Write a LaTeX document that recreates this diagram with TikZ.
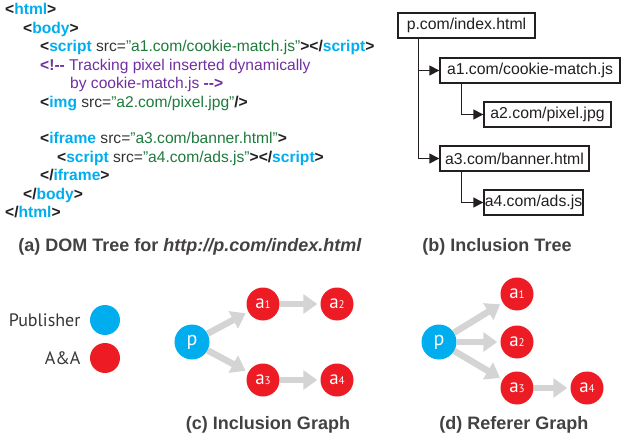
\documentclass[tikz,border=0pt]{standalone}
\usepackage{fontspec}
\setmainfont{Liberation Sans}
\newfontfamily\humfont{PT Sans}
\usetikzlibrary{arrows.meta}

\definecolor{tagcyan}{HTML}{00AEEF}
\definecolor{valgreen}{HTML}{1E7A3C}
\definecolor{cmtpurple}{HTML}{7030A0}
\definecolor{inkblack}{HTML}{231F20}
\definecolor{attrgray}{HTML}{333333}
\definecolor{aared}{HTML}{ED1C24}
\definecolor{edgegray}{HTML}{D4D4D4}

% pieces of the HTML listing
\newcommand{\tg}[1]{\textbf{\textcolor{tagcyan}{#1}}}
\newcommand{\bk}[1]{\textbf{\textcolor{inkblack}{#1}}}
\newcommand{\at}[1]{\textcolor{attrgray}{#1}}
\newcommand{\vl}[1]{\textcolor{valgreen}{#1}}
\newcommand{\cm}[1]{\textcolor{cmtpurple}{#1}}
\newcommand{\cmb}[1]{\textbf{\textcolor{cmtpurple}{#1}}}
\newcommand{\sub}[1]{{\fontsize{11}{11}\selectfont\raisebox{-0.3pt}{#1}}}

\tikzset{
  codeline/.style={anchor=base west, inner sep=0pt, font=\fontsize{15.6}{17}\selectfont},
  urlbox/.style={draw=inkblack, line width=1.4pt, minimum height=25pt, inner sep=0pt,
                 font=\fontsize{15.8}{18}\selectfont, text=inkblack},
  treelink/.style={draw=inkblack, line width=1.4pt, -{Triangle[length=10pt,width=10pt]}},
  caption/.style={font=\bfseries\fontsize{18}{21}\selectfont, text=inkblack!85},
  pubnode/.style={circle, fill=tagcyan, minimum size=35pt, inner sep=0pt,
                  text=white, font=\humfont\fontsize{20}{20}\selectfont},
  aanode/.style={circle, fill=aared, minimum size=33pt, inner sep=0pt,
                 text=white, font=\humfont\fontsize{19}{19}\selectfont},
  legendtext/.style={font=\humfont\fontsize{18}{20}\selectfont, text=inkblack!90},
  flow/.style={draw=edgegray, line width=6.5pt, shorten >=3pt,
               -{Triangle[length=14pt,width=19pt]}}
}

\begin{document}
\begin{tikzpicture}[x=1pt,y=-1pt]
\useasboundingbox (0,0) rectangle (625,439);

% ---- HTML source listing ----
\node[codeline] (l1)  at (5,15)   {\bk{<}\tg{html}\bk{>}};
\node[codeline] (l2)  at (23,33.4)  {\bk{<}\tg{body}\bk{>}};
\node[codeline] (l3)  at (40,51.8)  {\bk{<}\tg{script} \at{src=}\vl{"a1.com/cookie-match.js"}\bk{></}\tg{script}\bk{>}};
\node[codeline] (l4)  at (40,70.2)  {\cmb{<!{-}{-}} \cm{Tracking pixel inserted dynamically}};
\node[codeline] (l5)  at (70,88.6)  {\cm{by cookie-match.js} \cmb{{-}{-}>}};
\node[codeline] (l6)  at (40,107) {\bk{<}\tg{img} \at{src=}\vl{"a2.com/pixel.jpg"}\bk{/>}};
\node[codeline] (l7)  at (40,143.8) {\bk{<}\tg{iframe} \at{src=}\vl{"a3.com/banner.html"}\bk{>}};
\node[codeline] (l8)  at (57,162.2) {\bk{<}\tg{script} \at{src=}\vl{"a4.com/ads.js"}\bk{></}\tg{script}\bk{>}};
\node[codeline] (l9)  at (40,180.6) {\bk{</}\tg{iframe}\bk{>}};
\node[codeline] (l10) at (23,199) {\bk{</}\tg{body}\bk{>}};
\node[codeline] (l11) at (5,217.4)  {\bk{</}\tg{html}\bk{>}};

% ---- inclusion tree ----
\node[urlbox, minimum width=137pt] (t0) at (466.5,25.5)  {p.com/index.html};
\node[urlbox, minimum width=180pt] (t1) at (530,70.5)    {a1.com/cookie-match.js};
\node[urlbox, minimum width=127pt] (t2) at (547.5,114.5) {a2.com/pixel.jpg};
\node[urlbox, minimum width=149pt] (t3) at (514.5,158.5) {a3.com/banner.html};
\node[urlbox, minimum width=99pt]  (t4) at (533.5,202.5) {a4.com/ads.js};

\draw[treelink] ([xshift=21pt]t0.south west) |- (t1.west);
\draw[treelink] ([xshift=21pt]t0.south west) |- (t3.west);
\draw[treelink] ([xshift=22pt]t1.south west) |- (t2.west);
\draw[treelink] ([xshift=22pt]t3.south west) |- (t4.west);

% ---- captions ----
\node[caption] (capa) at (190,247) {(a) DOM Tree for \textit{http://p.com/index.html}};
\node[caption] (capb) at (497,247) {(b) Inclusion Tree};
\node[caption] (capc) at (268,425) {(c) Inclusion Graph};
\node[caption] (capd) at (514,425) {(d) Referer Graph};

% ---- legend ----
\node[circle, fill=tagcyan, minimum size=30pt, inner sep=0pt] (lgp) at (105,320) {};
\node[circle, fill=aared, minimum size=30pt, inner sep=0pt] (lga) at (105,358) {};
\node[legendtext, anchor=east] (lgptext) at (84,320) {Publisher};
\node[legendtext, anchor=east] (lgatext) at (84,358) {A\&A};

% ---- inclusion graph ----
\node[pubnode] (cp)  at (192,342) {p};
\node[aanode]  (ca1) at (263,304) {a\sub{1}};
\node[aanode]  (ca2) at (337,304) {a\sub{2}};
\node[aanode]  (ca3) at (263,380) {a\sub{3}};
\node[aanode]  (ca4) at (337,380) {a\sub{4}};
\draw[flow] (cp) -- (ca1);
\draw[flow] (cp) -- (ca3);
\draw[flow] (ca1) -- (ca2);
\draw[flow] (ca3) -- (ca4);

% ---- referer graph ----
\node[pubnode] (dp)  at (439,342) {p};
\node[aanode]  (da1) at (517,294) {a\sub{1}};
\node[aanode]  (da2) at (517,342) {a\sub{2}};
\node[aanode]  (da3) at (517,388) {a\sub{3}};
\node[aanode]  (da4) at (587,388) {a\sub{4}};
\draw[flow] (dp) -- (da1);
\draw[flow] (dp) -- (da2);
\draw[flow] (dp) -- (da3);
\draw[flow] (da3) -- (da4);
\end{tikzpicture}
\end{document}
